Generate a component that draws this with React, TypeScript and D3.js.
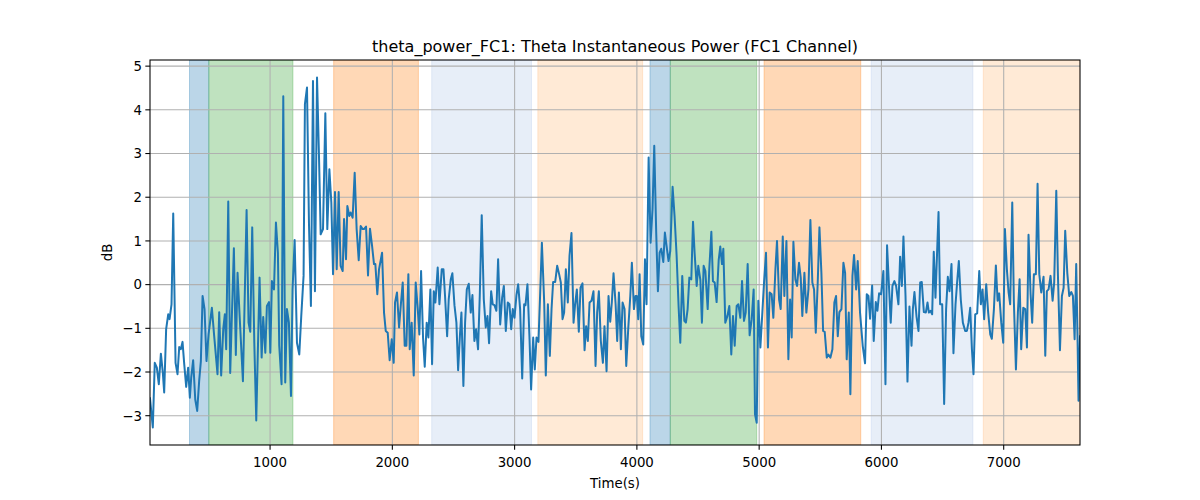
import React from "react";
import * as d3 from "d3";

// ---- data: [time (s), power (dB)] ----
const powerA: [number, number][] = [[18,-2.6],[41,-3.27],[57,-1.79],[74,-1.9],[90,-2.28],[107,-1.58],[123,-2.02],[134,-2.47],[150,-1.02],[167,-0.68],[178,-0.79],[194,-0.45],[208,1.63],[227,-1.79],[243,-2.05],[257,-1.43],[270,-1.48],[284,-1.31],[298,-1.82],[314,-2.34],[330,-1.9],[344,-2.59],[355,-2.13],[371,-1.73],[388,-2.63],[404,-2.89],[420,-2.21],[434,-1.75],[448,-0.26],[464,-0.56],[480,-1.75],[497,-1.14],[524,-0.53],[543,-1.18],[570,-2.05],[584,-0.63],[600,-2.08],[617,-1.02],[630,-0.68],[641,-1.48],[658,1.9],[674,-2.02],[704,0.83],[720,-1.61],[734,0.27],[751,-0.72],[778,-2.21],[808,1.71],[824,-0.87],[838,-1.08],[854,1.31],[871,-1.33],[887,-3.11],[914,0.16],[931,-1.67],[944,-0.74],[961,-1.56],[974,-0.49]];
const powerB: [number, number][] = [[991,-0.4],[1002,-1.56],[1015,0.08],[1032,-0.11],[1048,1.42],[1064,0.73],[1075,-1.4],[1094,-2.28],[1108,4.31],[1124,-2.24],[1138,-0.56],[1154,-0.87],[1171,-2.55],[1184,-0.11],[1201,1.02],[1220,-1.33],[1239,-1.6],[1255,-0.72],[1274,0.2],[1285,4.13],[1302,4.51],[1318,1.42],[1334,-0.49],[1351,4.66],[1367,-0.15],[1384,4.74],[1400,2.95],[1414,1.15],[1433,1.27],[1452,3.92],[1468,1.27],[1485,2.64],[1501,1.88],[1515,0.24],[1531,2.12],[1545,0.35],[1561,2.12],[1577,0.43],[1594,0.31],[1605,1.5],[1621,0.58],[1632,1.8],[1648,1.57],[1659,1.65],[1675,1.53],[1692,2.56],[1708,1.27],[1725,0.56],[1741,1.34],[1757,1.27],[1768,1.27],[1785,1.33],[1801,0.21],[1817,1.28],[1834,0.89],[1850,0.47],[1861,0.47],[1877,-0.22],[1891,0.35],[1916,0.73],[1932,-0.64]];
const powerC: [number, number][] = [[1946,-1.06],[1962,-1.1],[1978,-1.73],[1995,-1.25],[2011,-1.79],[2022,-0.41],[2038,-0.18],[2055,-0.98],[2071,-0.41],[2085,0.05],[2101,-1.4],[2115,-1.4],[2131,0.24],[2142,-1.48],[2158,-0.87],[2175,-2.08],[2191,0.05],[2208,-0.56],[2221,-1.14],[2235,0.31],[2251,-1.21],[2265,-1.88],[2281,-0.87],[2295,-1.21],[2311,-0.11],[2325,-1.82],[2339,-0.15],[2352,-0.41],[2371,0.39],[2385,-0.45],[2404,0.35],[2418,0.35],[2431,-0.26],[2448,-1.18],[2461,-0.34],[2478,0.12],[2491,0.26],[2508,-0.47],[2524,-0.87],[2538,-1.96],[2554,-1.1],[2565,-0.64],[2581,-2.32],[2595,-0.87],[2609,-0.11],[2625,0.02],[2641,-0.64],[2655,-0.24],[2671,-1.29],[2685,-1.02],[2701,-1.48],[2715,-0.26],[2731,1.59],[2748,-0.34],[2764,-0.98],[2778,-0.72],[2791,-1.34],[2808,-0.15],[2821,-0.45],[2835,-0.47],[2851,-0.6],[2865,0.58],[2882,-0.91]];
const powerD: [number, number][] = [[2898,-0.3],[2912,-0.03],[2928,-1.06],[2944,-0.41],[2958,-0.45],[2972,-1.02],[2985,-0.56],[2999,-0.76],[3015,-0.24],[3029,0.01],[3045,-0.56],[3062,-2.15],[3078,-0.45],[3089,-0.47],[3105,0.01],[3122,-1.25],[3135,-2.4],[3152,-1.21],[3165,-1.94],[3179,-1.21],[3195,-1.31],[3209,-0.2],[3223,0.96],[3242,-0.41],[3255,-2.08],[3272,-0.45],[3288,-1.63],[3302,-0.56],[3315,0.06],[3332,0.06],[3348,0.43],[3364,0.24],[3378,0.05],[3392,-0.79],[3405,-0.64],[3419,0.35],[3435,-0.41],[3449,0.66],[3465,1.18],[3482,-0.87],[3495,-0.45],[3509,-0.11],[3525,-1.08],[3539,-0.07],[3555,0.03],[3572,-1.5],[3585,-0.95],[3599,-1.29],[3613,-0.41],[3629,-0.37],[3645,-0.15],[3662,-1.86],[3675,-0.64],[3689,-0.15],[3705,-1.29],[3722,-1.79],[3735,-0.95],[3752,-1.98],[3768,-0.26],[3782,-0.85],[3795,-0.41],[3809,0.26],[3826,-0.45],[3839,-1.29],[3853,-0.18]];
const powerE: [number, number][] = [[3869,-1.48],[3883,-0.41],[3899,-0.56],[3913,-1.86],[3929,-1.02],[3946,-0.26],[3959,0.5],[3976,-0.56],[3989,-0.26],[4000,-0.26],[4011,-0.79],[4022,0.24],[4036,-1.18],[4052,-1.37],[4066,0.58],[4079,-0.45],[4096,2.91],[4112,0.96],[4128,1.73],[4142,3.18],[4158,1.19],[4172,-0.15],[4186,0.73],[4199,0.82],[4216,0.52],[4229,1.19],[4246,0.81],[4259,0.54],[4273,0.77],[4292,2.24],[4308,1.57],[4325,0.66],[4341,-0.49],[4355,-1.33],[4371,0.2],[4388,-0.83],[4401,-0.87],[4415,-0.56],[4429,0.16],[4445,0.12],[4459,1.44],[4472,0.73],[4489,-0.03],[4502,0.43],[4519,0.11],[4532,-0.87],[4546,0.43],[4560,0.31],[4579,-0.56],[4592,0.35],[4609,1.21],[4622,0.08],[4636,0.05],[4652,-0.4],[4669,0.56],[4682,0.87],[4696,0.47],[4707,0.82],[4723,-0.87],[4740,-0.72],[4756,-0.49],[4772,-1.6],[4786,-0.72],[4800,-1.4]];
const powerF: [number, number][] = [[4816,-0.49],[4830,-0.45],[4846,-0.76],[4860,0.08],[4876,-0.83],[4890,-0.64],[4906,0.47],[4922,-1.16],[4939,-0.79],[4955,-0.11],[4966,-2.97],[4980,-3.16],[4993,-0.37],[5010,-1.44],[5026,-0.64],[5040,0.05],[5056,0.73],[5072,-1.44],[5086,-0.18],[5102,-0.22],[5116,-0.76],[5133,0.35],[5146,1.0],[5163,-0.34],[5176,-0.56],[5193,1.1],[5206,-0.26],[5223,1.0],[5239,-1.71],[5253,-0.34],[5266,-1.21],[5280,0.98],[5296,0.12],[5310,-0.03],[5326,0.5],[5340,0.16],[5353,-0.72],[5370,0.27],[5386,-0.64],[5403,-0.11],[5419,1.48],[5435,0.05],[5449,-0.11],[5463,-1.1],[5479,0.05],[5493,1.31],[5509,0.27],[5523,-1.06],[5536,-1.08],[5553,-1.67],[5566,-1.6],[5583,-1.67],[5599,-1.48],[5615,-0.41],[5629,-0.26],[5643,-1.18],[5656,-0.63],[5673,-0.56],[5689,0.5],[5703,0.27],[5716,-1.71],[5733,-0.64],[5746,-2.51],[5763,0.2]];
const powerG: [number, number][] = [[5776,0.68],[5793,-0.11],[5806,0.54],[5825,-0.64],[5847,-1.4],[5866,-1.8],[5880,-0.22],[5894,-0.26],[5907,-0.78],[5924,-0.02],[5937,-1.29],[5954,-0.4],[5967,-0.6],[5981,-0.2],[5997,-0.22],[6016,0.31],[6033,-2.28],[6046,0.9],[6063,-0.11],[6076,-0.87],[6090,-0.03],[6106,0.08],[6120,-0.03],[6139,-0.45],[6153,0.64],[6167,-0.03],[6180,1.1],[6197,-0.26],[6213,-2.22],[6229,-0.5],[6246,-1.4],[6257,-0.56],[6270,-0.17],[6287,-0.73],[6303,-1.06],[6317,0.05],[6330,0.06],[6347,-0.63],[6363,-0.64],[6377,-0.41],[6388,-0.64],[6401,-0.6],[6415,-0.68],[6428,0.75],[6442,-0.3],[6467,1.66],[6480,-0.45],[6497,-0.45],[6513,-2.73],[6529,-0.56],[6543,0.18],[6557,-0.15],[6573,0.47],[6589,-1.57],[6606,-0.45],[6619,0.05],[6633,0.54],[6649,-0.34],[6666,-0.87],[6685,-1.06],[6699,-1.06],[6712,-0.87],[6726,-0.53]];
const powerH: [number, number][] = [[6740,-1.48],[6753,-2.05],[6767,-0.68],[6783,-0.66],[6800,0.31],[6813,-0.45],[6827,-0.11],[6840,-0.79],[6857,0.01],[6873,-0.64],[6890,-1.14],[6903,-1.24],[6920,-0.56],[6936,0.44],[6950,-0.37],[6963,-0.2],[6980,-0.87],[6996,-1.33],[7010,1.27],[7026,0.35],[7040,-0.18],[7053,-0.45],[7070,1.88],[7083,-0.37],[7100,-1.94],[7116,-0.64],[7130,0.12],[7143,-1.48],[7160,-0.53],[7176,-0.56],[7190,-1.44],[7203,1.14],[7220,-0.22],[7233,-0.87],[7247,0.24],[7263,0.24],[7277,2.31],[7291,0.24],[7307,-0.18],[7326,0.18],[7340,-1.63],[7353,-0.15],[7367,-0.11],[7383,0.2],[7400,-0.37],[7413,0.05],[7430,2.15],[7443,0.27],[7460,-1.5],[7476,-0.26],[7490,-0.07],[7503,1.23],[7520,0.27],[7536,-0.26],[7553,-0.17],[7566,-0.26],[7580,-1.25],[7593,0.47],[7604,-1.25],[7612,-2.66],[7624,-1.18]];

// ---- shaded intervals ----
const spanStart = [341, 499, 1520, 2322, 3190, 4107, 4273, 5040, 5916, 6833];
const spanEnd = [499, 1187, 2213, 3138, 4047, 4273, 4980, 5831, 6748, 7626];
const spanKind = ["cue", "task", "rest", "pre", "post", "cue", "task", "rest", "pre", "post"];

const xTicks = [1000, 2000, 3000, 4000, 5000, 6000, 7000];
const yTicks = [-3, -2, -1, 0, 1, 2, 3, 4, 5];

const kindColor: Record<string, string> = {
  cue: "#1f77b4",
  task: "#2ca02c",
  rest: "#ff7f0e",
  pre: "#aec7e8",
  post: "#ffbb78",
};
const kindAlpha: Record<string, number> = { cue: 0.3, task: 0.3, rest: 0.3, pre: 0.3, post: 0.3 };

const W = 1200, H = 500;
const M = { left: 150, right: 1080, top: 60, bottom: 445 };
const FONT = "DejaVu Sans, sans-serif";

export default function App() {
  const data = [...powerA, ...powerB, ...powerC, ...powerD, ...powerE, ...powerF, ...powerG, ...powerH];
  const [t0, t1] = d3.extent(data, (d) => d[0]) as [number, number];
  const [v0, v1] = d3.extent(data, (d) => d[1]) as [number, number];
  const pad = (v1 - v0) * 0.05;
  const x = d3.scaleLinear().domain([t0, t1]).range([M.left, M.right]);
  const y = d3.scaleLinear().domain([v0 - pad, v1 + pad]).range([M.bottom, M.top]);
  const line = d3.line<[number, number]>().x((d) => x(d[0])).y((d) => y(d[1]));
  const fmt = (v: number) => (v < 0 ? "\u2212" + Math.abs(v) : String(v));

  return (
    <svg width={W} height={H} style={{ position: "absolute", left: 0, top: 0, background: "#fff" }} fontFamily={FONT}>
      <defs>
        <clipPath id="plotClip">
          <rect x={M.left} y={M.top} width={M.right - M.left} height={M.bottom - M.top} />
        </clipPath>
      </defs>
      <rect x={0} y={0} width={W} height={H} fill="#fff" />
      <g clipPath="url(#plotClip)">
        {spanStart.map((s, i) => (
          <rect
            key={"span" + i}
            x={x(s)}
            y={M.top}
            width={x(spanEnd[i]) - x(s)}
            height={M.bottom - M.top}
            fill={kindColor[spanKind[i]]}
            fillOpacity={kindAlpha[spanKind[i]]}
            stroke={kindColor[spanKind[i]]}
            strokeOpacity={kindAlpha[spanKind[i]]}
            strokeWidth={1}
          />
        ))}
        {xTicks.map((t) => (
          <line key={"gx" + t} x1={x(t)} x2={x(t)} y1={M.top} y2={M.bottom} stroke="#b0b0b0" strokeWidth={1.07} />
        ))}
        {yTicks.map((t) => (
          <line key={"gy" + t} x1={M.left} x2={M.right} y1={y(t)} y2={y(t)} stroke="#b0b0b0" strokeWidth={1.07} />
        ))}
        <path d={line(data) || ""} fill="none" stroke="#1f77b4" strokeWidth={2} strokeLinejoin="round" strokeLinecap="square" />
      </g>
      <rect x={M.left} y={M.top} width={M.right - M.left} height={M.bottom - M.top} fill="none" stroke="#000" strokeWidth={1.07} />
      {xTicks.map((t) => (
        <g key={"tx" + t}>
          <line x1={x(t)} x2={x(t)} y1={M.bottom} y2={M.bottom + 4.67} stroke="#000" strokeWidth={1.07} />
          <text x={x(t)} y={M.bottom + 21.5} textAnchor="middle" fontSize={13.33} fill="#000">
            {fmt(t)}
          </text>
        </g>
      ))}
      {yTicks.map((t) => (
        <g key={"ty" + t}>
          <line x1={M.left - 4.67} x2={M.left} y1={y(t)} y2={y(t)} stroke="#000" strokeWidth={1.07} />
          <text x={M.left - 8} y={y(t) + 4.8} textAnchor="end" fontSize={13.33} fill="#000">
            {fmt(t)}
          </text>
        </g>
      ))}
      <text x={(M.left + M.right) / 2} y={52} textAnchor="middle" fontSize={16} fill="#000">
        theta_power_FC1: Theta Instantaneous Power (FC1 Channel)
      </text>
      <text x={(M.left + M.right) / 2} y={487.5} textAnchor="middle" fontSize={13.33} fill="#000">
        Time(s)
      </text>
      <text transform={`translate(112, ${(M.top + M.bottom) / 2}) rotate(-90)`} textAnchor="middle" fontSize={13.33} fill="#000">
        dB
      </text>
    </svg>
  );
}
